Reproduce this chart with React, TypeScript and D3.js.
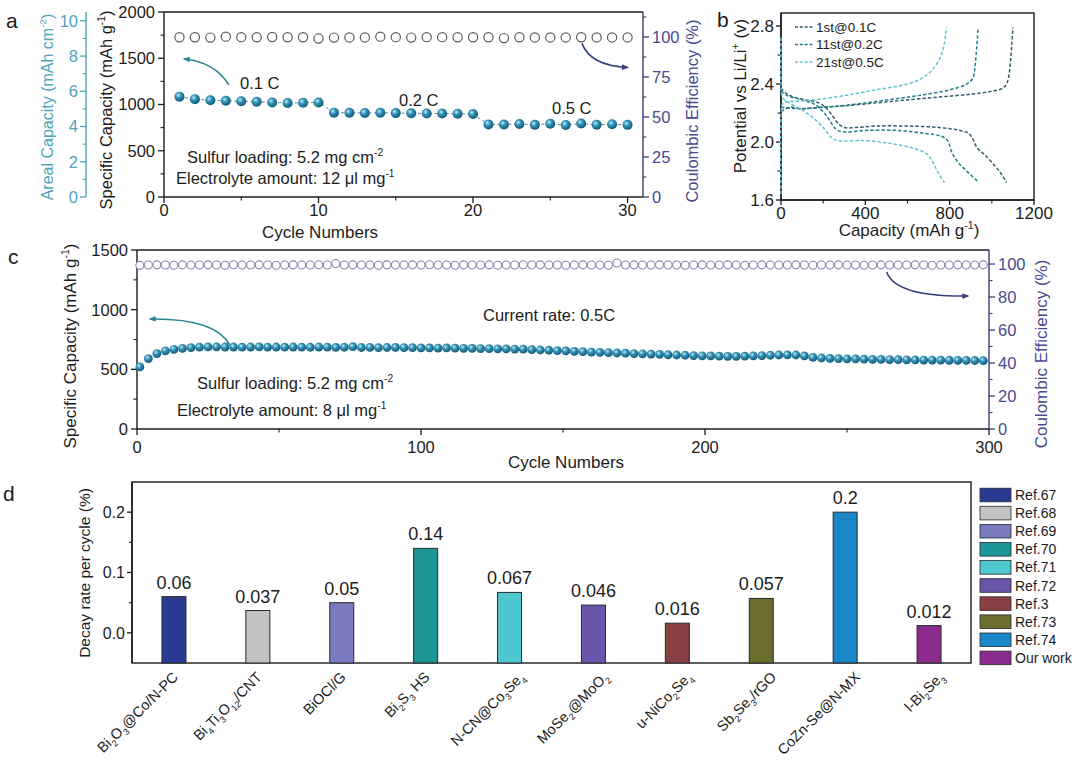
import React from 'react';
import * as d3 from 'd3';

// ---------------- Panel a data ----------------
const aCycles = [1,2,3,4,5,6,7,8,9,10,11,12,13,14,15,16,17,18,19,20,21,22,23,24,25,26,27,28,29,30];
const aCapacity = [1085,1058,1045,1040,1035,1030,1022,1016,1018,1022, 912,910,908,910,907,905,903,902,900,897, 785,783,790,780,792,778,794,781,786,780];
const aCE = [99.8,99.8,99.6,100.2,99.9,99.8,100,99.8,99.8,99.0, 99.6,99.7,99.7,100.2,99.9,99.6,99.9,99.9,99.8,99.8, 99.8,99.3,99.8,99.7,99.7,99.7,99.8,99.7,99.7,99.7];
const aRates = ['0.1 C', '0.2 C', '0.5 C'];
const aCapTicks = [0, 500, 1000, 1500, 2000];
const aCapMinor = [250, 750, 1250, 1750];
const aArealTicks = [0, 2, 4, 6, 8, 10];
const aArealMinor = [1, 3, 5, 7, 9];
const aCETicks = [0, 25, 50, 75, 100];
const aCEMinor = [12.5, 37.5, 62.5, 87.5, 112.5];
const aXTicks = [0, 10, 20, 30];
const aXMinor = [5, 15, 25];

// ---------------- Panel b data ----------------
const bSeries = ['1st@0.1C', '11st@0.2C', '21st@0.5C'];
const bDischarge1 = [[0,2.37],[20,2.34],[60,2.31],[120,2.29],[180,2.27],[210,2.24],[240,2.19],[270,2.13],[300,2.10],[350,2.10],[450,2.11],[600,2.11],[750,2.10],[850,2.08],[890,2.06],[910,2.02],[930,1.96],[960,1.92],[1000,1.86],[1040,1.79],[1070,1.72]];
const bDischarge11 = [[0,2.35],[30,2.32],[100,2.29],[160,2.26],[200,2.21],[230,2.15],[260,2.09],[290,2.07],[400,2.08],[550,2.08],[680,2.06],[760,2.04],[790,2.01],[810,1.93],[840,1.86],[880,1.80],[940,1.72]];
const bDischarge21 = [[0,2.72],[2,2.34],[10,2.30],[40,2.27],[100,2.22],[150,2.17],[200,2.10],[240,2.03],[270,2.01],[400,2.01],[520,1.99],[620,1.96],[690,1.92],[720,1.86],[745,1.79],[775,1.72]];
const bCharge1 = [[0,2.21],[40,2.24],[100,2.23],[200,2.24],[300,2.25],[450,2.27],[600,2.29],[750,2.31],[900,2.33],[1000,2.35],[1050,2.37],[1070,2.40],[1080,2.45],[1088,2.55],[1095,2.68],[1100,2.79]];
const bCharge11 = [[0,2.24],[80,2.23],[200,2.24],[350,2.26],[500,2.29],[650,2.32],[800,2.36],[880,2.40],[910,2.44],[920,2.52],[928,2.65],[935,2.79]];
const bCharge21 = [[0,1.64],[1,2.2],[10,2.27],[60,2.28],[150,2.29],[300,2.32],[450,2.36],[600,2.40],[680,2.45],[730,2.52],[760,2.60],[775,2.68],[785,2.79]];
const bYTicks = [1.6, 2.0, 2.4, 2.8];
const bYMinor = [1.8, 2.2, 2.6];
const bXTicks = [0, 400, 800, 1200];
const bXMinor = [200, 600, 1000];

// ---------------- Panel c data ----------------
const cCycles = d3.range(1, 300, 3);
const cCapacity = [
  520,590,632,655,668,676,682,686,688,688,687,
  687,686,687,688,686,687,686,687,
  686,685,687,686,684,685,690,683,684,682,683,684,682,681,
  680,679,678,679,677,676,675,674,673,672,671,670,669,
  665,662,660,657,654,651,648,645,642,640,637,635,632,
  630,628,625,622,620,618,615,613,612,610,609,608,
  610,612,615,618,620,621,620,612,600,595,
  592,590,588,587,585,584,583,582,581,580,579,578,578,577,576,575,575,574,573
];
const cCE = [
  99.2,99.4,99.5,99.4,99.3,99.5,99.4,99.4,99.5,99.4, 99.3,99.6,99.4,99.4,99.5,99.4,99.3,99.4,99.5,99.4,
  99.4,99.6,99.4,100.3,99.4,99.5,99.4,99.4,99.3,99.5, 99.4,99.4,99.5,99.4,99.6,99.4,99.4,99.3,99.5,99.4,
  99.4,99.5,99.3,99.4,99.4,99.6,99.4,99.5,99.4,99.4, 99.3,99.4,99.5,99.4,99.4,99.3,100.6,99.4,99.5,99.4,
  99.4,99.5,99.4,99.4,99.3,99.4,99.5,99.4,99.4,99.5, 99.4,99.3,99.4,99.5,99.4,99.4,99.4,99.5,99.4,99.3,
  99.4,99.4,99.5,99.4,99.4,99.3,99.4,99.5,99.4,99.4, 99.4,99.5,99.4,99.3,99.4,99.4,99.5,99.4,99.4,99.5
];
const cCapTicks = [0, 500, 1000, 1500];
const cCapMinor = [250, 750, 1250];
const cCETicks = [0, 20, 40, 60, 80, 100];
const cCEMinor = [10, 30, 50, 70, 90];
const cXTicks = [0, 100, 200, 300];
const cXMinor = [50, 150, 250];

// ---------------- Panel d data ----------------
const dCategories = ['Bi_2O_3@Co/N-PC', 'Bi_4Ti_3O_{12}/CNT', 'BiOCl/G', 'Bi_2S_3 HS', 'N-CN@Co_3Se_4', 'MoSe_2@MoO_2', 'u-NiCo_2Se_4', 'Sb_2Se_3/rGO', 'CoZn-Se@N-MX', 'l-Bi_2Se_3'];
const dValues = [0.06, 0.037, 0.05, 0.14, 0.067, 0.046, 0.016, 0.057, 0.2, 0.012];
const dValueLabels = ['0.06', '0.037', '0.05', '0.14', '0.067', '0.046', '0.016', '0.057', '0.2', '0.012'];
const dRefs = ['Ref.67', 'Ref.68', 'Ref.69', 'Ref.70', 'Ref.71', 'Ref.72', 'Ref.3', 'Ref.73', 'Ref.74', 'Our work'];
const dYTicks = [0, 0.1, 0.2];
const dYTickLabels = ['0.0', '0.1', '0.2'];
const dYMinor = [0.05, 0.15];

// ---------------- styles ----------------
const dColors = ['#2b3b94', '#c2c2c2', '#7b7cc0', '#1c9696', '#4ec7d0', '#6a55aa', '#8a3f42', '#6b6e2e', '#1a88c6', '#8a2a8c'];
const bColors = ['#345e6a', '#23808f', '#62c4d3'];
const INK = '#1c1c1c';
const TEAL = '#4aa6b8';
const NAVY = '#3b3d80';
const NAVY_TXT = '#4a4a92';
const FONT = "'Liberation Sans', Arial, Helvetica, sans-serif";

// rich text: _x subscript, ^x superscript, braces for groups
function Rich({ s, fs }: { s: string; fs: number }) {
  const parts: { t: string; k: string }[] = [];
  const re = /([_^])(\{[^}]*\}|.)/g;
  let last = 0;
  let m: RegExpExecArray | null;
  while ((m = re.exec(s))) {
    if (m.index > last) parts.push({ t: s.slice(last, m.index), k: 'n' });
    let t = m[2];
    if (t.startsWith('{')) t = t.slice(1, -1);
    parts.push({ t, k: m[1] === '_' ? 'sub' : 'sup' });
    last = re.lastIndex;
  }
  if (last < s.length) parts.push({ t: s.slice(last), k: 'n' });
  let cur = 0;
  return (
    <>
      {parts.map((p, i) => {
        const target = p.k === 'sub' ? fs * 0.28 : p.k === 'sup' ? -fs * 0.42 : 0;
        const dy = target - cur;
        cur = target;
        return (
          <tspan key={i} dy={dy} fontSize={p.k === 'n' ? fs : fs * 0.62}>
            {p.t}
          </tspan>
        );
      })}
    </>
  );
}

type VAxisProps = {
  scale: d3.ScaleLinear<number, number>;
  x: number; y0: number; y1: number;
  major: number[]; minor: number[]; labels: string[];
  side: 'left' | 'right'; color: string; textColor?: string;
  fs: number; len?: number; mlen?: number; gap?: number;
};
function VAxis(p: VAxisProps) {
  const dir = p.side === 'left' ? -1 : 1;
  const len = p.len ?? 6, mlen = p.mlen ?? 3.5, gap = p.gap ?? 3;
  return (
    <g>
      <line x1={p.x} x2={p.x} y1={p.y0} y2={p.y1} stroke={p.color} strokeWidth={1.4} />
      {p.major.map((v, i) => (
        <line key={'M' + i} x1={p.x} x2={p.x + dir * len} y1={p.scale(v)} y2={p.scale(v)} stroke={p.color} strokeWidth={1.3} />
      ))}
      {p.minor.map((v, i) => (
        <line key={'m' + i} x1={p.x} x2={p.x + dir * mlen} y1={p.scale(v)} y2={p.scale(v)} stroke={p.color} strokeWidth={1.1} />
      ))}
      {p.major.map((v, i) => (
        <text key={'L' + i} x={p.x + dir * (len + gap)} y={p.scale(v)} dy="0.36em" textAnchor={p.side === 'left' ? 'end' : 'start'} fontSize={p.fs} fill={p.textColor ?? INK}>
          {p.labels[i]}
        </text>
      ))}
    </g>
  );
}

type HAxisProps = {
  scale: d3.ScaleLinear<number, number>;
  y: number; x0: number; x1: number;
  major: number[]; minor: number[]; labels: string[];
  fs: number; base: number; len?: number; mlen?: number;
};
function HAxis(p: HAxisProps) {
  const len = p.len ?? 6, mlen = p.mlen ?? 3.5;
  return (
    <g>
      <line x1={p.x0} x2={p.x1} y1={p.y} y2={p.y} stroke={INK} strokeWidth={1.4} />
      {p.major.map((v, i) => (
        <line key={'M' + i} x1={p.scale(v)} x2={p.scale(v)} y1={p.y} y2={p.y + len} stroke={INK} strokeWidth={1.3} />
      ))}
      {p.minor.map((v, i) => (
        <line key={'m' + i} x1={p.scale(v)} x2={p.scale(v)} y1={p.y} y2={p.y + mlen} stroke={INK} strokeWidth={1.1} />
      ))}
      {p.major.map((v, i) => (
        <text key={'L' + i} x={p.scale(v)} y={p.y + p.base} textAnchor="middle" fontSize={p.fs} fill={INK}>
          {p.labels[i]}
        </text>
      ))}
    </g>
  );
}

function VLabel({ x, y, s, fs, color }: { x: number; y: number; s: string; fs: number; color: string }) {
  return (
    <text transform={`translate(${x},${y}) rotate(-90)`} textAnchor="middle" fill={color} fontSize={fs}>
      <Rich s={s} fs={fs} />
    </text>
  );
}

function curvedArrow(x0: number, y0: number, cx: number, cy: number, x1: number, y1: number) {
  const p = d3.path();
  p.moveTo(x0, y0);
  p.quadraticCurveTo(cx, cy, x1, y1);
  return p.toString();
}

export default function App() {
  // ---- panel a scales ----
  const A = { l: 164, r: 643, t: 12, b: 197, areal: 86 };
  const xA = d3.scaleLinear().domain([0, 31]).range([A.l, A.r]);
  const yA = d3.scaleLinear().domain([0, 2000]).range([A.b, A.t]);
  const yAreal = d3.scaleLinear().domain([0, 10.5]).range([A.b, A.t]);
  const yACE = d3.scaleLinear().domain([0, 115.6]).range([A.b, A.t]);

  // ---- panel b scales ----
  const B = { l: 781, r: 1034, t: 13, b: 200 };
  const xB = d3.scaleLinear().domain([0, 1200]).range([B.l, B.r]);
  const yB = d3.scaleLinear().domain([1.6, 2.89]).range([B.b, B.t]);

  // ---- panel c scales ----
  const C = { l: 137, r: 989, t: 250, b: 429 };
  const xC = d3.scaleLinear().domain([0, 300]).range([C.l, C.r]);
  const yC = d3.scaleLinear().domain([0, 1500]).range([C.b, C.t]);
  const yCCE = d3.scaleLinear().domain([0, 108.5]).range([C.b, C.t]);

  // ---- panel d scales ----
  const D = { l: 132, r: 971, t: 482, b: 663 };
  const xD = d3.scaleBand<string>().domain(dCategories).range([D.l, D.r]).paddingInner(0.714).paddingOuter(0.357);
  const yD = d3.scaleLinear().domain([-0.05, 0.25]).range([D.b, D.t]);

  const lineA = d3.line<number>().x((_, i) => xA(aCycles[i])).y((d) => yA(d));
  const lineB = d3.line<number[]>().x((d) => xB(d[0])).y((d) => yB(d[1])).curve(d3.curveCatmullRom.alpha(0.5));

  const bCurves = [
    { pts: bDischarge1, c: bColors[0] }, { pts: bCharge1, c: bColors[0] },
    { pts: bDischarge11, c: bColors[1] }, { pts: bCharge11, c: bColors[1] },
    { pts: bDischarge21, c: bColors[2] }, { pts: bCharge21, c: bColors[2] },
  ];

  const fsT = 16.5;

  return (
    <svg width={1080} height={763} style={{ position: 'absolute', left: 0, top: 0, background: '#fff' }} fontFamily={FONT}>
      <defs>
        <radialGradient id="ball" cx="38%" cy="35%" r="65%">
          <stop offset="0%" stopColor="#c6ecf6" />
          <stop offset="40%" stopColor="#3595b9" />
          <stop offset="100%" stopColor="#115a77" />
        </radialGradient>
        <marker id="ahTeal" viewBox="0 0 10 10" refX="8" refY="5" markerWidth="9" markerHeight="7" markerUnits="userSpaceOnUse" orient="auto">
          <path d="M0,1 L10,5 L0,9 z" fill="#2d8494" />
        </marker>
        <marker id="ahNavy" viewBox="0 0 10 10" refX="8" refY="5" markerWidth="9" markerHeight="7" markerUnits="userSpaceOnUse" orient="auto">
          <path d="M0,1 L10,5 L0,9 z" fill="#35407c" />
        </marker>
      </defs>
      <rect x={0} y={0} width={1080} height={763} fill="#fff" />

      {/* ================= Panel a ================= */}
      <text x={6} y={28} fontSize={21} fill={INK}>a</text>
      <line x1={A.l} x2={A.r} y1={A.t} y2={A.t} stroke={INK} strokeWidth={1.4} />
      <VAxis scale={yAreal} x={A.areal} y0={A.t} y1={A.b} major={aArealTicks} minor={aArealMinor} labels={aArealTicks.map(String)} side="left" color={TEAL} textColor={TEAL} fs={fsT} len={6} gap={2} />
      <VAxis scale={yA} x={A.l} y0={A.t} y1={A.b} major={aCapTicks} minor={aCapMinor} labels={aCapTicks.map(String)} side="left" color={INK} fs={fsT} />
      <VAxis scale={yACE} x={A.r} y0={A.t} y1={A.b} major={aCETicks} minor={aCEMinor} labels={aCETicks.map(String)} side="right" color={NAVY} textColor={NAVY_TXT} fs={fsT} />
      <HAxis scale={xA} y={A.b} x0={A.l} x1={A.r} major={aXTicks} minor={aXMinor} labels={aXTicks.map(String)} fs={fsT} base={19} />
      <VLabel x={53} y={107} s="Areal Capacity (mAh cm^{-2})" fs={16} color={TEAL} />
      <VLabel x={112} y={110} s="Specific Capacity (mAh g^{-1})" fs={16.5} color={INK} />
      <VLabel x={698} y={111} s="Coulombic Efficiency (%)" fs={16.5} color={NAVY_TXT} />
      <text x={320} y={238} textAnchor="middle" fontSize={17} fill={INK}>Cycle Numbers</text>

      <path d={lineA(aCapacity) ?? ''} fill="none" stroke="#4f8796" strokeWidth={1} strokeDasharray="3,2.5" />
      {aCE.map((v, i) => (
        <circle key={'ace' + i} cx={xA(aCycles[i])} cy={yACE(v)} r={4.6} fill="#fff" stroke="#5a5a5a" strokeWidth={1.2} />
      ))}
      {aCapacity.map((v, i) => (
        <circle key={'acap' + i} cx={xA(aCycles[i])} cy={yA(v)} r={5} fill="url(#ball)" />
      ))}
      <path d={curvedArrow(xA(4.2), yA(1211), xA(3.3), yA(1459), xA(1.3), yA(1492))} fill="none" stroke="#2d8494" strokeWidth={1.6} markerEnd="url(#ahTeal)" />
      <path d={curvedArrow(xA(27.05), yACE(96), xA(27.6), yACE(82), xA(30.0), yACE(81))} fill="none" stroke="#35407c" strokeWidth={1.6} markerEnd="url(#ahNavy)" />
      <text x={240} y={89} fontSize={fsT} fill={INK}>{aRates[0]}</text>
      <text x={399} y={106} fontSize={fsT} fill={INK}>{aRates[1]}</text>
      <text x={552} y={114} fontSize={fsT} fill={INK}>{aRates[2]}</text>
      <text x={187} y={163} fill={INK}><Rich s="Sulfur loading: 5.2 mg cm^{-2}" fs={fsT} /></text>
      <text x={176} y={184} fill={INK}><Rich s="Electrolyte amount: 12 μl mg^{-1}" fs={fsT} /></text>

      {/* ================= Panel b ================= */}
      <text x={717} y={27} fontSize={21} fill={INK}>b</text>
      <rect x={B.l} y={B.t} width={B.r - B.l} height={B.b - B.t} fill="none" stroke={INK} strokeWidth={1.4} />
      <VAxis scale={yB} x={B.l} y0={B.t} y1={B.b} major={bYTicks} minor={bYMinor} labels={bYTicks.map((v) => v.toFixed(1))} side="left" color={INK} fs={17} len={5} gap={2} />
      <HAxis scale={xB} y={B.b} x0={B.l} x1={B.r} major={bXTicks} minor={bXMinor} labels={bXTicks.map(String)} fs={17} base={19} len={5} />
      <VLabel x={746} y={96} s="Potential vs Li/Li^+ (v)" fs={17} color={INK} />
      <text x={909} y={236} textAnchor="middle" fill={INK}><Rich s="Capacity (mAh g^{-1})" fs={17} /></text>
      {bCurves.map((c, i) => (
        <path key={'bc' + i} d={lineB(c.pts) ?? ''} fill="none" stroke={c.c} strokeWidth={1.5} strokeDasharray="3.5,2" />
      ))}
      {bSeries.map((s, i) => (
        <g key={'bl' + i}>
          <line x1={795} x2={813} y1={27 + i * 17.5} y2={27 + i * 17.5} stroke={bColors[i]} strokeWidth={1.5} strokeDasharray="3,1.8" />
          <text x={816} y={27 + i * 17.5} dy="0.36em" fontSize={13.5} fill={INK}>{s}</text>
        </g>
      ))}

      {/* ================= Panel c ================= */}
      <text x={8} y={264} fontSize={21} fill={INK}>c</text>
      <line x1={C.l} x2={C.r} y1={C.t} y2={C.t} stroke={INK} strokeWidth={1.4} />
      <VAxis scale={yC} x={C.l} y0={C.t} y1={C.b} major={cCapTicks} minor={cCapMinor} labels={cCapTicks.map(String)} side="left" color={INK} fs={fsT} />
      <VAxis scale={yCCE} x={C.r} y0={C.t} y1={C.b} major={cCETicks} minor={cCEMinor} labels={cCETicks.map(String)} side="right" color={NAVY} textColor={NAVY_TXT} fs={fsT} />
      <HAxis scale={xC} y={C.b} x0={C.l} x1={C.r} major={cXTicks} minor={cXMinor} labels={cXTicks.map(String)} fs={fsT} base={24} />
      <VLabel x={76} y={346} s="Specific Capacity (mAh g^{-1})" fs={17} color={INK} />
      <VLabel x={1047} y={354} s="Coulombic Efficiency (%)" fs={17} color={NAVY_TXT} />
      <text x={566} y={468} textAnchor="middle" fontSize={17} fill={INK}>Cycle Numbers</text>

      {cCE.map((v, i) => (
        <circle key={'cce' + i} cx={xC(cCycles[i])} cy={yCCE(v)} r={4} fill="#fff" stroke="#8a86ae" strokeWidth={1.1} />
      ))}
      {cCapacity.map((v, i) => (
        <circle key={'ccap' + i} cx={xC(cCycles[i])} cy={yC(v)} r={4.4} fill="url(#ball)" />
      ))}
      <path d={curvedArrow(xC(32.7), yC(704), xC(27.5), yC(930), xC(4.6), yC(922))} fill="none" stroke="#2d8494" strokeWidth={1.6} markerEnd="url(#ahTeal)" />
      <path d={curvedArrow(xC(264), yCCE(95.2), xC(267), yCCE(80), xC(292.6), yCCE(80.6))} fill="none" stroke="#35407c" strokeWidth={1.6} markerEnd="url(#ahNavy)" />
      <text x={483} y={321} fontSize={fsT} fill={INK}>Current rate: 0.5C</text>
      <text x={197} y={389} fill={INK}><Rich s="Sulfur loading: 5.2 mg cm^{-2}" fs={fsT} /></text>
      <text x={177} y={416} fill={INK}><Rich s="Electrolyte amount: 8 μl mg^{-1}" fs={fsT} /></text>

      {/* ================= Panel d ================= */}
      <text x={3} y={501} fontSize={21} fill={INK}>d</text>
      <rect x={D.l} y={D.t} width={D.r - D.l} height={D.b - D.t} fill="none" stroke={INK} strokeWidth={1.4} />
      <VAxis scale={yD} x={D.l} y0={D.t} y1={D.b} major={dYTicks} minor={dYMinor} labels={dYTickLabels} side="left" color={INK} fs={16} len={5} mlen={3} gap={2} />
      <VLabel x={90} y={573} s="Decay rate per cycle (%)" fs={15.5} color={INK} />
      {dCategories.map((c, i) => {
        const x = xD(c) ?? 0;
        const w = xD.bandwidth();
        return (
          <g key={'bar' + i}>
            <rect x={x} y={yD(dValues[i])} width={w} height={yD(-0.05) - yD(dValues[i])} fill={dColors[i]} stroke="#2a2a2a" strokeWidth={1} />
            <text x={x + w / 2} y={yD(dValues[i]) - 8} textAnchor="middle" fontSize={18} fill={INK}>{dValueLabels[i]}</text>
            <text transform={`translate(${x + w / 2 + (i < 4 ? 5 : 16)},${678}) rotate(-45)`} textAnchor="end" fill={INK}>
              <Rich s={c} fs={14.5} />
            </text>
          </g>
        );
      })}
      {dRefs.map((r, i) => (
        <g key={'lg' + i}>
          <rect x={980} y={495 + i * 18.1 - 6.8} width={31} height={13.6} fill={dColors[i]} stroke="#2a2a2a" strokeWidth={0.8} />
          <text x={1015} y={495 + i * 18.1} dy="0.36em" fontSize={14} fill={INK}>{r}</text>
        </g>
      ))}
    </svg>
  );
}
